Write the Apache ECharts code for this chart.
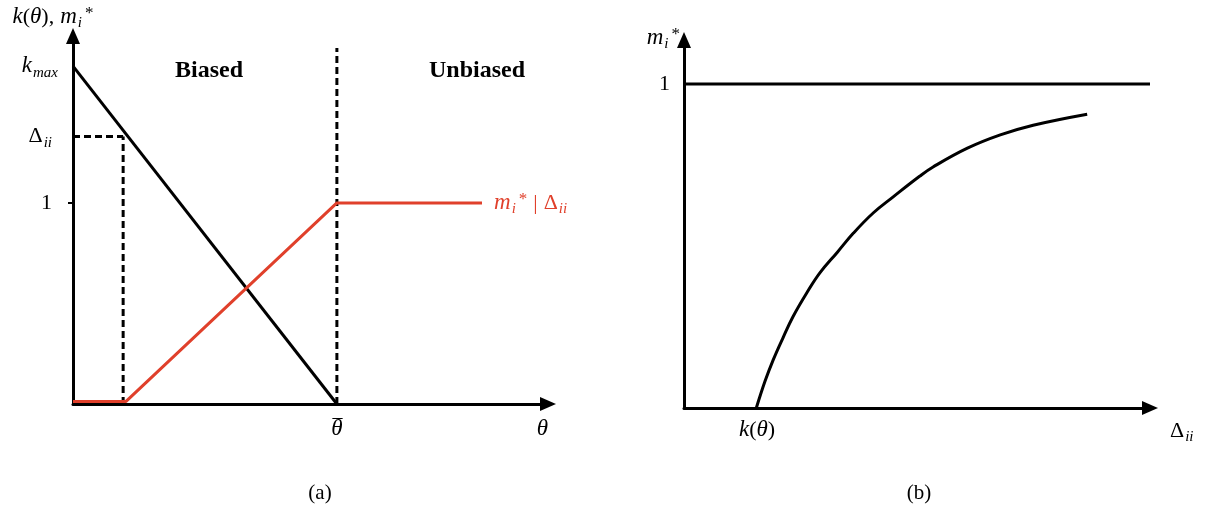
<!DOCTYPE html>
<html>
<head>
<meta charset="utf-8">
<script src="https://cdn.jsdelivr.net/npm/echarts@6/dist/echarts.min.js"></script>
<style>html,body{margin:0;padding:0;background:#fff}#c{width:1206px;height:509px}</style>
</head>
<body>
<div id="c"></div>
<script>
// ---- Panel (a) values ----
const kMax = 1.68;          // k_max on the vertical axis
const deltaII = 1.33;       // Δ_ii level
const thetaBar = 1.0;       // θ̄
const thetaD = 0.19;        // θ where k(θ) = Δ_ii
const redEnd = 1.55;        // end of the m_i*|Δ_ii curve
const dashTop = 1.77;       // top of the θ̄ divider
const xMaxA = 1.8;
const yMaxA = 1.83;
const kLine = [[0, kMax], [thetaBar, 0]];
const mLine = [[0, 0.012], [0.2, 0.012], [thetaBar, 1], [redEnd, 1]];
const yTicksA = [1, deltaII, kMax];
const yTickLabelsA = ['{n|1}{pad|}', '{n|Δ}{sub|ii}{pad|}', '{it|k}{sub|max}'];

// ---- Panel (b) values ----
const curveX = [0.99, 1.11, 1.22, 1.36, 1.49, 1.68, 1.86, 2.10, 2.32, 2.59, 2.86, 3.23, 3.41, 3.88, 4.33, 4.78, 5.52];
const curveY = [0, 0.083, 0.148, 0.219, 0.281, 0.355, 0.417, 0.481, 0.540, 0.602, 0.651, 0.716, 0.744, 0.802, 0.843, 0.873, 0.907];
const kTheta = 1.0;
const oneLevel = 1;
const xMaxB = 6.38;
const yMaxB = 1.136;

const RED = '#E0402B';
const SERIF = '"Liberation Serif", "DejaVu Serif", serif';
function makeRich(c) {
  return {
    it: {fontFamily: SERIF, fontStyle: 'italic', fontSize: 23, color: c, lineHeight: 30, verticalAlign: 'middle'},
    n: {fontFamily: SERIF, fontSize: 22, color: c, lineHeight: 30, verticalAlign: 'middle'},
    sub: {fontFamily: SERIF, fontStyle: 'italic', fontSize: 15, color: c, lineHeight: 30, verticalAlign: 'bottom', padding: [0, 0, 1, 1]},
    sup: {fontFamily: SERIF, fontSize: 17, color: c, lineHeight: 30, verticalAlign: 'top', padding: [3, 0, 0, 3]},
    sp: {fontFamily: SERIF, fontSize: 22, color: c, lineHeight: 30, verticalAlign: 'middle', padding: [0, 3, 0, 3]},
    pad: {width: 6, lineHeight: 30},
    mac: {fontFamily: SERIF, fontSize: 20, color: c, lineHeight: 30, verticalAlign: 'top', align: 'right', width: 0.001, padding: [5, 0, 0, 0]}
  };
}
const rich = makeRich('#000');
const richRed = makeRich(RED);
const axisLineStyle = {
  show: true, onZero: false,
  symbol: ['none', 'triangle'], symbolSize: [14, 16],
  lineStyle: {color: '#000', width: 3}
};

const chart = echarts.init(document.getElementById('c'), null, {renderer: 'canvas'});
chart.setOption({
  backgroundColor: '#fff',
  animation: false,
  title: [
    {text: '(a)', left: 315, top: 478, textAlign: 'center', textStyle: {fontFamily: SERIF, fontWeight: 'normal', fontSize: 21, color: '#000'}},
    {text: '(b)', left: 914, top: 478, textAlign: 'center', textStyle: {fontFamily: SERIF, fontWeight: 'normal', fontSize: 21, color: '#000'}}
  ],
  graphic: [
    {type: 'text', left: 175, top: 59, style: {text: 'Biased', fontFamily: SERIF, fontWeight: 'bold', fontSize: 24, fill: '#000'}},
    {type: 'text', left: 429, top: 59, style: {text: 'Unbiased', fontFamily: SERIF, fontWeight: 'bold', fontSize: 24, fill: '#000'}}
  ],
  grid: [
    {left: 73, top: 36, width: 475, height: 368},
    {left: 684, top: 40, width: 466, height: 368}
  ],
  xAxis: [
    {
      type: 'value', gridIndex: 0, min: 0, max: xMaxA,
      axisLine: axisLineStyle, splitLine: {show: false}, axisTick: {show: false},
      axisLabel: {customValues: [thetaBar], formatter: () => '{it|θ}{mac|¯}', rich: rich, margin: 10},
      name: '{it|θ}', nameLocation: 'end', nameGap: 0,
      nameTextStyle: {align: 'right', verticalAlign: 'top', padding: [10, 0, 0, 0], rich: rich}
    },
    {
      type: 'value', gridIndex: 1, min: 0, max: xMaxB,
      axisLine: axisLineStyle, splitLine: {show: false}, axisTick: {show: false},
      axisLabel: {customValues: [kTheta], formatter: () => '{it|k}{n|(}{it|θ}{n|)}', rich: rich, margin: 7},
      name: '{n|Δ}{sub|ii}', nameLocation: 'end', nameGap: 20,
      nameTextStyle: {align: 'left', verticalAlign: 'top', padding: [8, 0, 0, 0], rich: rich}
    }
  ],
  yAxis: [
    {
      type: 'value', gridIndex: 0, min: 0, max: yMaxA,
      axisLine: axisLineStyle, splitLine: {show: false},
      axisTick: {show: true, customValues: [1], length: 5, lineStyle: {color: '#000', width: 2}},
      axisLabel: {
        customValues: yTicksA, margin: 15,
        formatter: (v) => yTickLabelsA[yTicksA.indexOf(v)] || '', rich: rich
      },
      name: '{it|k}{n|(}{it|θ}{n|),}{sp|}{it|m}{sub|i}{sup|*}', nameLocation: 'end', nameGap: 4,
      nameTextStyle: {padding: [0, 40, 0, 0], rich: rich}
    },
    {
      type: 'value', gridIndex: 1, min: 0, max: yMaxB,
      axisLine: axisLineStyle, splitLine: {show: false}, axisTick: {show: false},
      axisLabel: {customValues: [oneLevel], formatter: () => '{n|1}', rich: rich, margin: 14},
      name: '{it|m}{sub|i}{sup|*}', nameLocation: 'end', nameGap: 0,
      nameTextStyle: {align: 'right', verticalAlign: 'middle', padding: [0, 4, 4, 0], rich: rich}
    }
  ],
  series: [
    {type: 'line', xAxisIndex: 0, yAxisIndex: 0, data: kLine, symbol: 'none', lineStyle: {color: '#000', width: 3}, z: 3},
    {type: 'line', xAxisIndex: 0, yAxisIndex: 0, data: [[0, deltaII], [thetaD, deltaII]], symbol: 'none', lineStyle: {color: '#000', width: 3, type: [7, 4]}},
    {type: 'line', xAxisIndex: 0, yAxisIndex: 0, data: [[thetaD, 0], [thetaD, deltaII]], symbol: 'none', lineStyle: {color: '#000', width: 3, type: [7, 4]}},
    {type: 'line', xAxisIndex: 0, yAxisIndex: 0, data: [[thetaBar, 0], [thetaBar, dashTop]], symbol: 'none', lineStyle: {color: '#000', width: 3, type: [7, 4]}},
    {
      type: 'line', xAxisIndex: 0, yAxisIndex: 0, data: mLine, symbol: 'none', z: 4,
      lineStyle: {color: RED, width: 3},
      endLabel: {show: true, distance: 12, formatter: () => '{it|m}{sub|i}{sup|*}{sp|}{n||}{sp|}{n|Δ}{sub|ii}', rich: richRed, color: RED}
    },
    {type: 'line', xAxisIndex: 1, yAxisIndex: 1, data: [[0, oneLevel], [xMaxB, oneLevel]], symbol: 'none', lineStyle: {color: '#000', width: 3}},
    {
      type: 'line', xAxisIndex: 1, yAxisIndex: 1, symbol: 'none', smooth: 0.4,
      data: curveX.map((x, i) => [x, curveY[i]]),
      lineStyle: {color: '#000', width: 3}
    }
  ]
});
</script>
</body>
</html>
